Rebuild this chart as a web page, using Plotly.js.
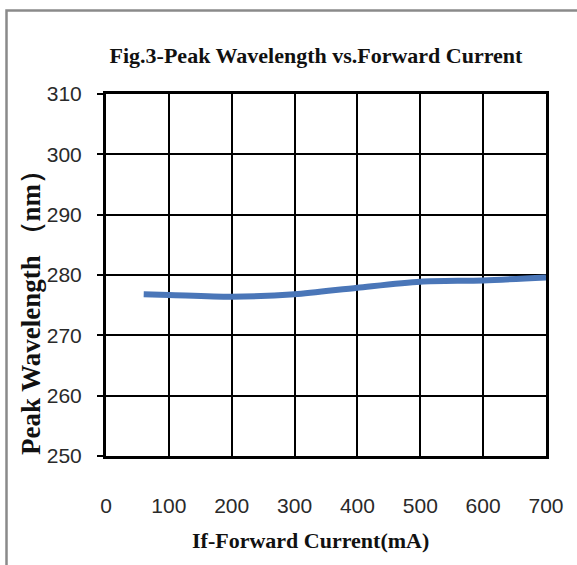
<!DOCTYPE html>
<html><head><meta charset="utf-8">
<script src="https://cdn.plot.ly/plotly-3.0.1.min.js"></script>
<style>html,body{margin:0;padding:0;background:#fff}#chart{width:577px;height:565px}</style>
</head><body><div id="chart"></div>
<script>
const currentMA = [60, 100, 200, 300, 400, 500, 600, 700];
const peakWavelengthNm = [276.8, 276.7, 276.4, 276.8, 277.9, 278.9, 279.1, 279.6];
const xTickVals = [0, 100, 200, 300, 400, 500, 600, 700];
const yTickVals = [250, 260, 270, 280, 290, 300, 310];
const chartTitle = 'Fig.3-Peak Wavelength vs.Forward Current';
const xTitle = 'If-Forward Current(mA)';
const yTitle = 'Peak Wavelength （nm）';

const serif = '"Liberation Serif", "Times New Roman", serif';
const sans = '"Liberation Sans", Arial, sans-serif';

const trace = {
  x: currentMA, y: peakWavelengthNm, type: 'scatter', mode: 'lines',
  line: {color: '#4a76b8', width: 6, shape: 'spline', smoothing: 0.8},
  hoverinfo: 'x+y'
};

const layout = {
  width: 577, height: 565,
  margin: {l: 106, r: 31, t: 94, b: 109},
  paper_bgcolor: '#fff', plot_bgcolor: '#fff',
  showlegend: false,
  title: {text: '<b>' + chartTitle + '</b>', font: {family: serif, size: 22, color: '#111'},
          xref: 'container', x: 316/577, xanchor: 'center', yref: 'container', y: 1 - 55/565, yanchor: 'middle'},
  xaxis: {
    range: [0, 700], tickvals: xTickVals, ticktext: xTickVals.map(String),
    showline: true, mirror: true, linewidth: 3, linecolor: '#000',
    showgrid: true, gridcolor: '#000', gridwidth: 2, zeroline: false,
    ticks: '', ticklabelstandoff: 29,
    tickfont: {family: sans, size: 21, color: '#2a2a2a'},
    automargin: false, fixedrange: true
  },
  yaxis: {
    range: [250, 310], tickvals: yTickVals, ticktext: yTickVals.map(String),
    showline: true, mirror: true, linewidth: 3, linecolor: '#000',
    showgrid: true, gridcolor: '#000', gridwidth: 2, zeroline: false,
    ticks: 'outside', ticklen: 6, tickwidth: 2, tickcolor: '#000', ticklabelstandoff: 11,
    tickfont: {family: sans, size: 21, color: '#2a2a2a'},
    automargin: false, fixedrange: true
  },
  annotations: [
    {text: '<b>' + xTitle + '</b>', xref: 'paper', yref: 'paper',
     x: (310 - 106) / 440, y: (456 - 540) / 362, xanchor: 'center', yanchor: 'middle',
     showarrow: false, font: {family: serif, size: 22, color: '#111'}},
    {text: '<b>' + yTitle + '</b>', xref: 'paper', yref: 'paper', textangle: -90,
     x: (31 - 106) / 440, y: (456 - 306) / 362, xanchor: 'center', yanchor: 'middle',
     showarrow: false, font: {family: serif, size: 27, color: '#111'}}
  ],
  shapes: [{
    type: 'rect', xref: 'paper', yref: 'paper', layer: 'below',
    x0: (6.5 - 106) / 440, x1: (590 - 106) / 440,
    y0: (456 - 580) / 362, y1: (456 - 10.5) / 362,
    line: {color: '#8a8a8a', width: 2.5}, fillcolor: 'rgba(0,0,0,0)'
  }]
};

Plotly.newPlot('chart', [trace], layout, {displayModeBar: false, staticPlot: true});
</script></body></html>
